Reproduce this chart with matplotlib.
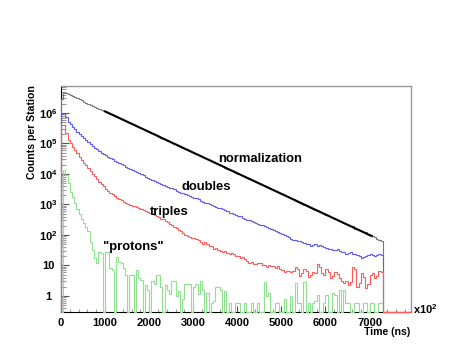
import numpy as np
import matplotlib
matplotlib.use("Agg")
import matplotlib.pyplot as plt
from matplotlib.ticker import FixedLocator, LogLocator, MultipleLocator, NullFormatter

plt.rcParams['font.family'] = ['Liberation Sans', 'DejaVu Sans']
plt.rcParams['font.weight'] = 'bold'
plt.rcParams['mathtext.fontset'] = 'custom'
plt.rcParams['mathtext.rm'] = 'Liberation Sans:bold'
plt.rcParams['mathtext.bf'] = 'Liberation Sans:bold'
plt.rcParams['mathtext.default'] = 'bf'

# histogram binning (ns)
bin_width = 50
time_max = 7300
axis_max = 7940

# counts per station, one value per 50 ns bin from 0 to 7300 ns
normalization = [2.9e6, 4.5e6, 4.44e6, 4.11e6, 3.80e6, 3.51e6, 3.25e6, 3.01e6, 2.78e6, 2.57e6,
                 2.38e6, 2.20e6, 2.04e6, 1.88e6, 1.74e6, 1.61e6, 1.50e6, 1.38e6, 1.28e6, 1.18e6,
                 1.09e6, 1.01e6, 9.36e5, 8.65e5, 8.0e5, 7.39e5, 6.85e5, 6.34e5, 5.87e5, 5.42e5,
                 5.02e5, 4.64e5, 4.30e5, 3.97e5, 3.67e5, 3.39e5, 3.15e5, 2.91e5, 2.69e5, 2.49e5,
                 2.31e5, 2.13e5, 1.98e5, 1.83e5, 1.68e5, 1.56e5, 1.45e5, 1.34e5, 1.24e5, 1.14e5,
                 1.06e5, 9.81e4, 9.06e4, 8.37e4, 7.75e4, 7.16e4, 6.63e4, 6.13e4, 5.68e4, 5.25e4,
                 4.87e4, 4.50e4, 4.16e4, 3.85e4, 3.56e4, 3.29e4, 3.05e4, 2.82e4, 2.61e4, 2.41e4,
                 2.24e4, 2.07e4, 1.91e4, 1.77e4, 1.63e4, 1.51e4, 1.40e4, 1.30e4, 1.20e4, 1.11e4,
                 10250, 9480, 8770, 8110, 7500, 6930, 6430, 5940, 5490, 5080,
                 4710, 4360, 4020, 3720, 3440, 3180, 2950, 2730, 2530, 2340,
                 2160, 2000, 1850, 1710, 1580, 1460, 1350, 1250, 1150, 1070,
                 993, 918, 850, 786, 726, 671, 622, 575, 532, 492,
                 456, 422, 390, 361, 334, 309, 286, 264, 244, 226,
                 209, 193, 190, 160, 153, 141, 131, 121, 128, 104,
                 97, 92, 84, 76, 71, 65]

doubles = [9.5e5, 1.0e6, 7.2e5, 5.1e5, 4.4e5, 3.6e5, 2.95e5, 2.45e5, 2.07e5, 1.76e5,
           1.48e5, 1.28e5, 1.09e5, 9.5e4, 8.3e4, 7.3e4, 6.4e4, 5.7e4, 5.05e4, 4.55e4,
           4.1e4, 3.7e4, 3.32e4, 3.0e4, 2.75e4, 2.52e4, 2.29e4, 2.10e4, 1.90e4, 1.74e4,
           1.58e4, 1.45e4, 1.34e4, 1.24e4, 1.14e4, 1.06e4, 9700, 8980, 8260, 7640,
           7030, 6500, 5980, 5530, 5090, 4710, 4420, 4120, 3780, 3500,
           3350, 3200, 2830, 2640, 2470, 2330, 2150, 2080, 1900, 1760,
           1680, 1610, 1460, 1350, 1240, 1140, 1100, 1030, 950, 900,
           830, 780, 740, 690, 640, 590, 540, 510, 490, 450,
           430, 410, 370, 345, 320, 300, 285, 270, 252, 232,
           215, 205, 192, 180, 172, 158, 148, 138, 128, 115,
           108, 98, 92, 84, 76, 70, 70, 64, 62, 58,
           56, 52, 50, 45, 46, 49, 44, 47, 42, 40,
           38, 34, 36, 33, 32, 36, 31, 28, 27, 24,
           25, 28, 24, 23, 22, 20, 18, 19, 20, 22,
           24, 22, 21, 22, 23, 22]

triples = [4.0e5, 3.9e5, 2.2e5, 1.3e5, 1.0e5, 7.7e4, 6.1e4, 4.8e4, 3.7e4, 2.95e4,
           2.35e4, 1.93e4, 1.55e4, 1.28e4, 10300, 8500, 6800, 5600, 4650, 3920,
           3330, 2870, 2450, 2140, 1880, 1680, 1520, 1380, 1250, 1150,
           1060, 980, 920, 860, 800, 750, 700, 650, 610, 565,
           520, 480, 445, 410, 380, 345, 330, 290, 270, 235,
           215, 188, 170, 148, 135, 118, 100, 90, 88, 78,
           82, 72, 66, 58, 52, 57, 50, 44, 42, 36,
           38, 33, 30, 27, 29, 25, 24, 26, 23, 20,
           21, 18, 19, 16, 14, 12.5, 13.5, 11.5, 11, 12.5,
           12.5, 10.5, 10, 9, 10.5, 9.5, 9.5, 8.5, 9.5, 7.5,
           7, 6.3, 6.5, 6.8, 6, 6.5, 9, 7.5, 4.5, 5.5,
           7.5, 6.5, 4.2, 5, 6.3, 5.5, 11.5, 9, 5.5, 4.8,
           7.5, 6.2, 3.8, 4.6, 6.2, 5.4, 3.8, 3.2, 2.6, 3.0,
           2.3, 2.8, 9, 7.5, 1.9, 2.6, 5.5, 4.2, 1.8, 2.4,
           4.8, 5.6, 3.8, 4.4, 6.5, 6]

protons = [0, 1.35e4, 9300, 5000, 2600, 1700, 1100, 700, 500, 330,
           240, 180, 135, 60, 32, 17, 12, 28, 25, 0,
           28, 28, 8, 7, 0, 19, 13, 12, 8, 5,
           0, 5, 5, 0, 7, 4, 3.3, 0, 2.3, 1.6,
           0, 3, 2.5, 4.9, 4.9, 2.0, 0, 2.3, 1.6, 1.2,
           3.2, 3.2, 1.0, 1.5, 0, 0.8, 2.5, 2.5, 2.5, 0,
           2.0, 2.5, 1.2, 3.2, 1.6, 0, 1.3, 0, 0.6, 0.7,
           2.0, 2.0, 1.6, 0, 1.5, 0, 0.6, 0, 0, 0.6,
           0.6, 0, 0, 0.6, 0, 0, 0.6, 0, 0, 0.6,
           0, 0, 2.8, 1.0, 1.3, 0, 0, 0.6, 0.6, 0,
           0, 0.8, 0, 0, 1.0, 0, 2.6, 0.6, 0.6, 0,
           2.8, 0, 0.6, 0, 0.6, 0.7, 1.07, 0, 0, 0.6,
           1.07, 0, 0, 1.3, 1.07, 0, 1.6, 0, 1.6, 0.6,
           0.6, 0, 0, 0.6, 0.6, 0, 0, 0.6, 0.6, 0,
           0.6, 0.6, 0, 0, 0.6, 0.6]

# exponential fit drawn over the normalization histogram
fit_time = [1000, 7050]
fit_counts = [1.13e6, 92]

y_ticks = [1, 10, 1e2, 1e3, 1e4, 1e5, 1e6]
y_tick_labels = ['1', '10', r'$10^{2}$', r'$10^{3}$', r'$10^{4}$', r'$10^{5}$', r'$10^{6}$']
x_ticks = [0, 1000, 2000, 3000, 4000, 5000, 6000, 7000]

y_low, y_high = 0.2986, 7.67e6

fig = plt.figure(figsize=(4.71, 3.64), dpi=100)
ax = fig.add_axes([61 / 471, 52 / 364, 350 / 471, 226 / 364])
ax.set_yscale('log')
ax.set_xlim(0, axis_max)
ax.set_ylim(y_low, y_high)

edges = np.append(np.arange(0, time_max + bin_width, bin_width), axis_max)


def draw_hist(counts, color, lw=0.8):
    vals = np.append(np.asarray(counts, dtype=float), 0.0)
    vals = np.clip(vals, y_low, None)
    ax.stairs(vals, edges, baseline=y_low, color=color, lw=lw, zorder=3, clip_on=False)


draw_hist(normalization, '#777777')
draw_hist(doubles, '#5a5aff')
draw_hist(protons, '#8fe08f')
draw_hist(triples, '#ff5a5a')
ax.plot(fit_time, fit_counts, color='black', lw=1.5, zorder=4)

# curve labels
ax.text(3560, 2.47e4, 'normalization', fontsize=9.4, weight='bold', va='baseline', ha='left')
ax.text(2737, 2990, 'doubles', fontsize=9.4, weight='bold', va='baseline', ha='left')
ax.text(2018, 453, 'triples', fontsize=9.4, weight='bold', va='baseline', ha='left')
ax.text(952, 32, '"protons"', fontsize=9.4, weight='bold', va='baseline', ha='left')

# axes like a ROOT frame
for side in ['top', 'right']:
    ax.spines[side].set_color('#9a9a9a')
    ax.spines[side].set_linewidth(1.0)
for side in ['left', 'bottom']:
    ax.spines[side].set_color('black')
    ax.spines[side].set_linewidth(0.8)

ax.yaxis.set_major_locator(FixedLocator(y_ticks))
ax.set_yticklabels(y_tick_labels)
ax.yaxis.set_minor_locator(LogLocator(base=10, subs=np.arange(2, 10)))
ax.yaxis.set_minor_formatter(NullFormatter())
ax.xaxis.set_major_locator(FixedLocator(x_ticks))
ax.set_xticklabels([str(x) for x in x_ticks])
ax.xaxis.set_minor_locator(MultipleLocator(200))

ax.tick_params(axis='y', which='major', direction='in', length=6, width=0.8, color='#555555',
               labelsize=8, pad=9)
ax.tick_params(axis='y', which='minor', direction='in', length=3.5, width=0.8, color='#999999')
ax.tick_params(axis='x', which='major', direction='in', length=4, width=0.8, color='#555555',
               labelsize=8, pad=4)
ax.tick_params(axis='x', which='minor', direction='in', length=2, width=0.8, color='#999999')
for lab in ax.get_yticklabels():
    lab.set_horizontalalignment('center')
    lab.set_fontweight('bold')
for lab in ax.get_xticklabels():
    lab.set_fontweight('bold')

fig.text(32 / 471, 1 - 85 / 364, 'Counts per Station', rotation=90, ha='center', va='top',
         fontsize=7.6, weight='bold')
fig.text(410 / 471, 1 - 335 / 364, 'Time (ns)', ha='right', va='baseline', fontsize=7.6, weight='bold')
fig.text(413 / 471, 1 - 314 / 364, r'x10$^{2}$', ha='left', va='baseline', fontsize=8, weight='bold')

fig.savefig('out.png', dpi=100)
